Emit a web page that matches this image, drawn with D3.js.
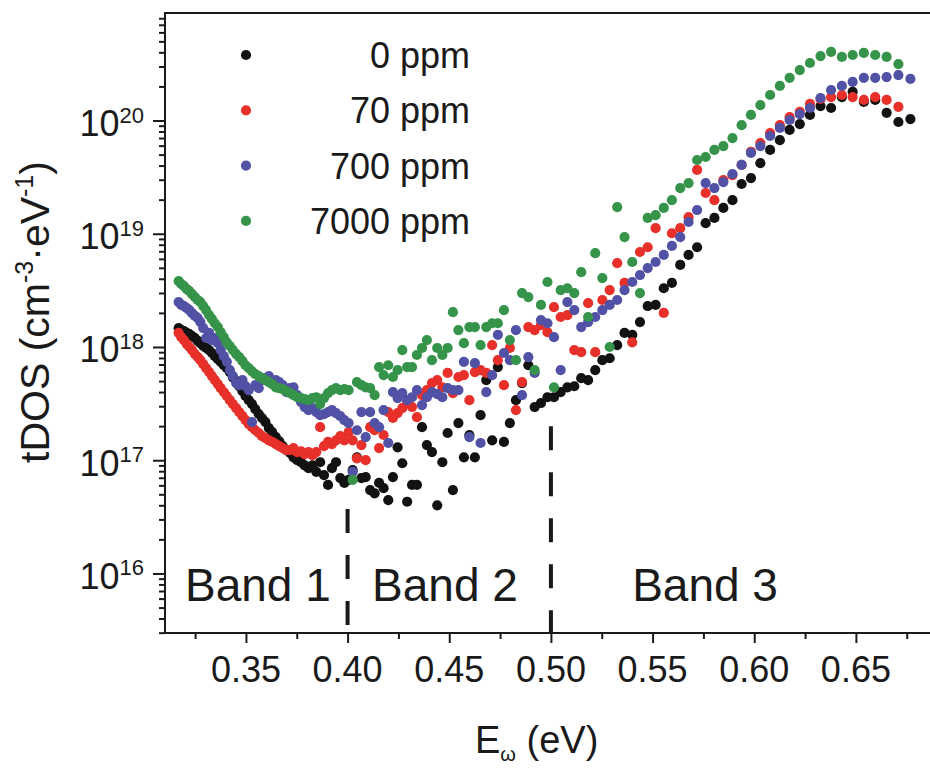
<!DOCTYPE html>
<html><head><meta charset="utf-8">
<script src="https://cdn.jsdelivr.net/npm/d3@7"></script>
<style>
body{margin:0;background:#fff}
svg{display:block}
text{font-family:"Liberation Sans",Arial,sans-serif;fill:#1a1a1a}
</style>
</head><body>
<svg id="chart" width="930" height="770"></svg>
<script>
// ---------- data ----------
const energy = [
0.3169,0.3182,0.3195,0.3209,0.3222,0.3235,0.3249,0.3263,0.3276,0.3290,
0.3304,0.3319,0.3333,0.3347,0.3362,0.3376,0.3391,0.3406,0.3421,0.3436,
0.3452,0.3467,0.3483,0.3498,0.3514,0.3530,0.3546,0.3563,0.3579,0.3596,
0.3613,0.3629,0.3647,0.3664,0.3681,0.3699,0.3717,0.3734,0.3752,0.3771,
0.3789,0.3808,0.3827,0.3846,0.3865,0.3884,0.3904,0.3923,0.3943,0.3964,
0.3984,0.4005,0.4025,0.4046,0.4068,0.4089,0.4111,0.4133,0.4155,0.4177,
0.4200,0.4223,0.4246,0.4269,0.4293,0.4317,0.4341,0.4366,0.4390,0.4415,
0.4441,0.4466,0.4492,0.4518,0.4545,0.4572,0.4599,0.4626,0.4654,0.4682,
0.4711,0.4739,0.4769,0.4798,0.4828,0.4858,0.4889,0.4920,0.4951,0.4983,
0.5015,0.5048,0.5081,0.5115,0.5149,0.5183,0.5218,0.5253,0.5289,0.5326,
0.5362,0.5400,0.5438,0.5476,0.5515,0.5555,0.5595,0.5636,0.5677,0.5719,
0.5761,0.5804,0.5848,0.5893,0.5938,0.5984,0.6030,0.6078,0.6126,0.6174,
0.6224,0.6274,0.6326,0.6378,0.6431,0.6484,0.6539,0.6595,0.6651,0.6709,
0.6768];

const tdos0ppm = [
1.47e18,1.41e18,1.38e18,1.33e18,1.30e18,1.25e18,1.20e18,1.13e18,1.08e18,1.02e18,
9.8e17,9.4e17,8.85e17,8.3e17,7.8e17,7.4e17,6.9e17,6.5e17,6.0e17,5.4e17,
5.0e17,4.5e17,4.07e17,3.69e17,3.39e17,3.13e17,2.83e17,2.56e17,2.36e17,2.17e17,
1.92e17,1.77e17,1.60e17,1.47e17,1.33e17,1.23e17,1.16e17,1.06e17,1.0e17,9.6e16,
9.0e16,8.5e16,9.0e16,7.9e16,9.6e16,7.4e16,6.05e16,8.5e16,9.6e16,6.95e16,
6.3e16,6.7e16,8.2e16,1.06e17,6.95e16,7.1e16,5.45e16,5.1e16,6.3e16,5.67e16,
4.45e16,7.1e16,1.3e17,9.4e16,4.3e16,6.05e16,6.05e16,1.96e17,1.36e17,1.18e17,
4.0e16,9.6e16,1.74e17,5.45e16,2.13e17,1.06e17,1.67e17,1.06e17,2.5e17,5.1e17,
1.5e17,6.65e17,1.45e17,2.13e17,3.39e17,4.8e17,6.9e17,2.95e17,3.2e17,3.6e17,
3.6e17,4.0e17,4.4e17,4.5e17,5.3e17,5.1e17,6.25e17,7.65e17,7.95e17,1.04e18,
1.33e18,1.28e18,1.66e18,2.3e18,2.35e18,3.3e18,3.68e18,5.3e18,6.5e18,7.6e18,
1.24e19,1.38e19,1.69e19,1.98e19,2.75e19,3.1e19,4.2e19,5.5e19,6.7e19,8.25e19,
9.3e19,1.12e20,1.34e20,1.29e20,1.61e20,1.79e20,1.46e20,1.52e20,1.17e20,9.7e19,
1.03e20];

const tdos70ppm = [
1.33e18,1.22e18,1.15e18,1.06e18,1.0e18,9.4e17,8.65e17,8.15e17,7.65e17,7.05e17,
6.5e17,6.0e17,5.54e17,5.1e17,4.7e17,4.33e17,4.0e17,3.69e17,3.39e17,3.13e17,
2.88e17,2.66e17,2.45e17,2.26e17,2.08e17,1.96e17,1.84e17,1.74e17,1.63e17,1.57e17,
1.5e17,1.45e17,1.39e17,1.33e17,1.28e17,1.23e17,1.23e17,1.28e17,1.18e17,1.2e17,
1.13e17,1.18e17,1.11e17,1.18e17,1.96e17,1.33e17,1.45e17,1.39e17,1.5e17,1.63e17,
1.5e17,1.77e17,1.5e17,1.04e17,1.36e17,1.0e17,1.96e17,1.84e17,1.28e17,1.67e17,
2.66e17,2.36e17,2.61e17,2.88e17,3.2e17,2.95e17,2.4e17,3.76e17,4.16e17,4.8e17,
5.1e17,4.4e17,5.9e17,3.92e17,5.43e17,5.65e17,3.39e17,6.0e17,6.25e17,5.9e17,
1.04e18,7.65e17,4.6e17,9.8e17,2.77e17,4.9e17,1.5e18,1.41e18,1.56e18,1.35e18,
2.25e18,1.84e18,1.91e18,9.4e17,9.0e17,2.44e18,9.0e17,2.6e18,3.18e18,5.5e18,
3.68e18,1.1e18,6.9e18,7.6e18,1.12e19,2.0e18,1.01e19,1.12e19,1.4e19,3.66e19,
2.29e19,1.98e19,2.98e19,3.3e19,4.05e19,5.3e19,6.33e19,7.75e19,9.1e19,1.07e20,
1.19e20,1.4e20,1.55e20,1.61e20,1.68e20,1.61e20,1.52e20,1.61e20,1.52e20,1.32e20];

const tdos700ppm = [
2.49e18,2.35e18,2.3e18,2.2e18,2.12e18,1.99e18,1.88e18,1.8e18,1.66e18,1.47e18,
1.2e18,1.33e18,1.15e18,1.2e18,1.08e18,9.4e17,8.3e17,7.4e17,6.25e17,5.54e17,
4.8e17,4.6e17,5.1e17,4.52e17,4.16e17,2.17e17,4.6e17,4.33e17,5.1e17,5.3e17,
5.54e17,4.9e17,5.1e17,4.9e17,4.6e17,4.0e17,4.33e17,4.4e17,3.76e17,3.26e17,
2.95e17,2.77e17,2.88e17,2.66e17,2.5e17,2.55e17,2.66e17,2.77e17,2.61e17,2.45e17,
2.26e17,2.13e17,7.9e16,1.84e17,2.66e17,1.6e17,2.66e17,2.13e17,1.96e17,2.77e17,
1.42e17,4.0e17,3.54e17,3.92e17,3.39e17,3.6e17,4.16e17,3.07e17,3.6e17,4.0e17,
3.84e17,3.6e17,4.33e17,4.16e17,4.16e17,7.4e17,1.6e17,7.2e17,1.42e17,4.0e17,
5.65e17,1.28e18,8.85e17,7.65e17,1.41e18,3.76e17,8.15e17,5.9e17,1.73e18,1.62e18,
1.22e18,6.25e17,2.49e18,2.12e18,1.5e18,1.66e18,1.84e18,2.12e18,2.35e18,2.6e18,
3.18e18,3.75e18,4.32e18,4.98e18,5.63e18,6.5e18,7.8e18,9.35e18,1.27e19,1.62e19,
2.8e19,2.53e19,2.86e19,3.37e19,4.05e19,5.17e19,5.95e19,7.3e19,8.6e19,1.01e20,
1.14e20,1.29e20,1.58e20,1.86e20,2.02e20,2.19e20,2.38e20,2.38e20,2.42e20,2.52e20,
2.33e20];

const tdos7000ppm = [
3.82e18,3.6e18,3.45e18,3.25e18,3.12e18,2.93e18,2.76e18,2.6e18,2.49e18,2.3e18,
2.12e18,1.91e18,1.76e18,1.62e18,1.5e18,1.35e18,1.22e18,1.1e18,1.02e18,9.4e17,
8.65e17,8.15e17,7.5e17,6.9e17,6.5e17,6.1e17,5.75e17,5.54e17,5.3e17,5.1e17,
4.9e17,4.7e17,4.4e17,4.33e17,4.24e17,4.07e17,3.92e17,3.76e17,3.6e17,3.54e17,
3.46e17,3.39e17,3.54e17,3.6e17,3.13e17,3.54e17,3.92e17,4.16e17,4.33e17,4.16e17,
4.24e17,4.16e17,6.7e16,4.9e17,4.6e17,4.4e17,4.33e17,3.76e17,6.65e17,5.65e17,
6.9e17,5.43e17,6.25e17,9.4e17,6.65e17,6.65e17,8.5e17,9.8e17,1.15e18,7.65e17,
9.8e17,8.5e17,9.8e17,2.03e18,1.41e18,1.08e18,1.5e18,1.5e18,1.04e18,1.5e18,
1.62e18,1.62e18,2.12e18,1.15e18,7.65e17,2.99e18,2.76e18,6.25e17,2.35e18,3.75e18,
4.4e17,3.18e18,3.3e18,2.99e18,4.58e18,1.84e18,6.75e18,4.06e18,1.0e18,1.72e19,
9.35e18,5.63e18,2.99e18,1.38e19,1.46e19,1.69e19,1.98e19,2.53e19,2.8e19,4.48e19,
4.76e19,5.5e19,5.95e19,7.0e19,9.1e19,1.12e20,1.37e20,1.68e20,2.02e20,2.38e20,
2.79e20,3.22e20,3.71e20,4.03e20,3.64e20,3.79e20,3.95e20,3.79e20,3.64e20,3.15e20];

const seriesNames  = ["0 ppm", "70 ppm", "700 ppm", "7000 ppm"];
const seriesColors = ["#121212", "#e8302a", "#5151a6", "#35944a"];

const xTickValues = [0.35, 0.40, 0.45, 0.50, 0.55, 0.60, 0.65];
const xTickLabels = ["0.35", "0.40", "0.45", "0.50", "0.55", "0.60", "0.65"];
const xMinorTicks = [0.325, 0.375, 0.425, 0.475, 0.525, 0.575, 0.625, 0.675];
const yTickValues = [1e16, 1e17, 1e18, 1e19, 1e20];
const yTickExponents = ["16", "17", "18", "19", "20"];

const bandBoundaryE   = [0.40, 0.50];
const bandBoundaryTop = [3.7e16, 2.0e17];
const bandLabels  = ["Band 1", "Band 2", "Band 3"];
const bandLabelE  = [0.3559, 0.4479, 0.5758];

// ---------- layout ----------
const svg = d3.select("#chart");
const P = {left:165, right:935, top:13, bottom:633};
const x = d3.scaleLinear().domain([0.3102, 0.6889]).range([P.left, P.right]);
const y = d3.scaleLog().domain([2.98e15, 8.9e20]).range([P.bottom, P.top]);
const ink = "#1a1a1a";

const yMinor = [];
for (let e = 15; e <= 20; e++) for (let m = 2; m <= 9; m++) {
  const v = m * Math.pow(10, e);
  if (v >= y.domain()[0] && v <= y.domain()[1]) yMinor.push(v);
}

// ---------- axes ----------
function styleAxis(g){
  g.select(".domain").remove();
  g.selectAll(".tick line").attr("stroke", ink).attr("stroke-width", 2);
}
svg.append("g").attr("transform", `translate(0,${P.bottom})`)
  .call(d3.axisBottom(x).tickValues(xTickValues).tickSize(10).tickFormat(""))
  .call(styleAxis);
svg.append("g").attr("transform", `translate(0,${P.bottom})`)
  .call(d3.axisBottom(x).tickValues(xMinorTicks).tickSize(6).tickFormat(""))
  .call(styleAxis);
svg.append("g").attr("transform", `translate(${P.left},0)`)
  .call(d3.axisLeft(y).tickValues(yTickValues).tickSize(12).tickFormat(""))
  .call(styleAxis);
svg.append("g").attr("transform", `translate(${P.left},0)`)
  .call(d3.axisLeft(y).tickValues(yMinor).tickSize(6).tickFormat(""))
  .call(styleAxis);

svg.append("path")
  .attr("d", `M${P.right},${P.top}H${P.left}V${P.bottom}H${P.right}`)
  .attr("fill", "none").attr("stroke", ink).attr("stroke-width", 2);

// x tick labels
svg.append("g").selectAll("text").data(xTickValues).join("text")
  .attr("x", d => x(d)).attr("y", 682)
  .attr("text-anchor", "middle").attr("font-size", 36)
  .text((d, i) => xTickLabels[i]);

// y tick labels
const yl = svg.append("g").selectAll("text").data(yTickValues).join("text")
  .attr("x", 144).attr("y", d => y(d) + 15.5)
  .attr("text-anchor", "end").attr("font-size", 36);
yl.append("tspan").text("10");
yl.append("tspan").attr("font-size", 22).attr("dy", -13.5)
  .text((d, i) => yTickExponents[i]);

// axis titles
const xt = svg.append("text").attr("x", 475).attr("y", 753).attr("font-size", 38);
xt.append("tspan").text("E");
xt.append("tspan").attr("font-size", 20).attr("dy", 8).text("ω");
xt.append("tspan").attr("dy", -8).text(" (eV)");

const ytl = svg.append("text")
  .attr("transform", "translate(49,312) rotate(-90)")
  .attr("text-anchor", "middle").attr("font-size", 41);
ytl.append("tspan").text("tDOS (cm");
ytl.append("tspan").attr("font-size", 25).attr("dy", -16).text("-3");
ytl.append("tspan").attr("dy", 16).text("·eV");
ytl.append("tspan").attr("font-size", 25).attr("dy", -16).text("-1");
ytl.append("tspan").attr("dy", 16).text(")");

// band boundaries
svg.append("g").selectAll("line").data(bandBoundaryE).join("line")
  .attr("x1", d => x(d)).attr("x2", d => x(d))
  .attr("y1", (d, i) => y(bandBoundaryTop[i])).attr("y2", P.bottom)
  .attr("stroke", ink).attr("stroke-width", 4)
  .attr("stroke-dasharray", "24,22");

// band labels
svg.append("g").selectAll("text").data(bandLabels).join("text")
  .attr("x", (d, i) => x(bandLabelE[i])).attr("y", 601)
  .attr("text-anchor", "middle").attr("font-size", 46)
  .text(d => d);

// ---------- points ----------
const allSeries = [tdos0ppm, tdos70ppm, tdos700ppm, tdos7000ppm];
allSeries.forEach((vals, s) => {
  svg.append("g").selectAll("circle")
    .data(vals.map((v, i) => [energy[i], v]))
    .join("circle")
    .attr("cx", d => x(d[0])).attr("cy", d => y(d[1]))
    .attr("r", 5.1).attr("fill", seriesColors[s]);
});

// ---------- legend ----------
const lg = svg.append("g");
seriesNames.forEach((name, i) => {
  const cy = 55 + 55.3 * i;
  lg.append("circle").attr("cx", 246).attr("cy", cy).attr("r", 5.1).attr("fill", seriesColors[i]);
  lg.append("text").attr("x", 470).attr("y", cy + 13)
    .attr("text-anchor", "end").attr("font-size", 36).text(name);
});
</script>
</body></html>
